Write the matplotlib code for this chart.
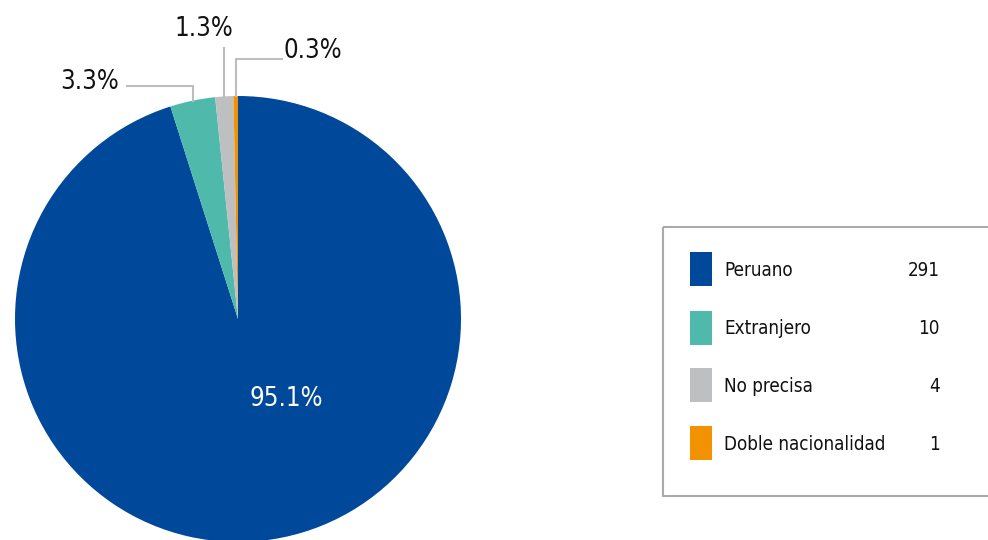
import numpy as np
import matplotlib
matplotlib.use("Agg")
import matplotlib.pyplot as plt
from matplotlib.patches import Rectangle

categories = ["Peruano", "Extranjero", "No precisa", "Doble nacionalidad"]
values = [291, 10, 4, 1]
pct_labels = ["95.1%", "3.3%", "1.3%", "0.3%"]
colors = ["#00489A", "#4FBAAC", "#BEBFC1", "#F39200"]

plt.rcParams['font.family'] = ['DejaVu Sans']
FS = dict(family='DejaVu Sans', stretch='condensed')

fig = plt.figure(figsize=(9.88, 5.40), dpi=100)
W, H = 988, 540
cx, cy, r = 238, 319, 223
ax = fig.add_axes([(cx - r) / W, (H - cy - r) / H, 2 * r / W, 2 * r / H])

wedges, _ = ax.pie(values, colors=colors, startangle=90, counterclock=False,
                   radius=1, center=(0, 0), wedgeprops=dict(linewidth=0))
ax.set_xlim(-1, 1)
ax.set_ylim(-1, 1)
ax.set_aspect('auto')
ax.axis('off')

tc = '#111111'
# main label
ax.text(0.215, -0.36, pct_labels[0], color='white', fontsize=18.5, ha='center', va='center', **FS)

lc = '#BDBDBD'
def mid(w):
    a = np.deg2rad((w.theta1 + w.theta2) / 2)
    return np.cos(a), np.sin(a)

# Extranjero
x0, y0 = mid(wedges[1])
ax.plot([x0, x0, -0.50], [y0, 1.045, 1.045], color=lc, lw=1.5, clip_on=False)
ax.text(-0.535, 1.065, pct_labels[1], fontsize=18.5, ha='right', va='center', color=tc, **FS)
# No precisa
x0, y0 = mid(wedges[2])
ax.plot([x0, x0], [y0, 1.215], color=lc, lw=1.5, clip_on=False)
ax.text(x0 - 0.09, 1.30, pct_labels[2], fontsize=18.5, ha='center', va='center', color=tc, **FS)
# Doble
x0, y0 = mid(wedges[3])
ax.plot([x0, x0, 0.197], [y0, 1.166, 1.166], color=lc, lw=1.5, clip_on=False)
ax.text(0.206, 1.20, pct_labels[3], fontsize=18.5, ha='left', va='center', color=tc, **FS)

# legend box
lax = fig.add_axes([0, 0, 1, 1], facecolor='none')
lax.set_xlim(0, W)
lax.set_ylim(H, 0)
lax.axis('off')
lax.add_patch(Rectangle((662.5, 226.5), 330, 269, fill=False, edgecolor='#AAAAAA', lw=1.5))
rows_y = [269, 328, 385, 443]
for yy, c, lab, v in zip(rows_y, colors, categories, values):
    lax.add_patch(Rectangle((690, yy - 17), 22, 34, facecolor=c, edgecolor='none'))
    lax.text(724, yy + 1, lab, fontsize=13.5, ha='left', va='center', color=tc, **FS)
    lax.text(940, yy + 1, str(v), fontsize=13.5, ha='right', va='center', color=tc, **FS)

fig.savefig('out.png', dpi=100)
